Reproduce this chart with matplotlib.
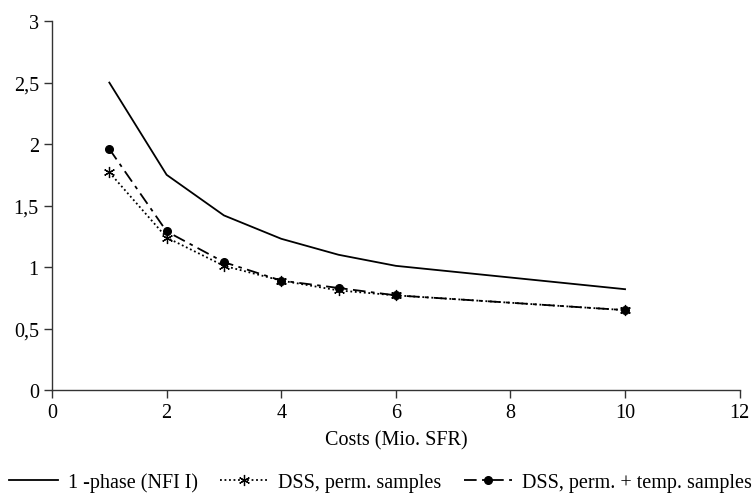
import matplotlib
matplotlib.use("Agg")
import matplotlib.pyplot as plt
from matplotlib.ticker import FuncFormatter

plt.rcParams['font.family'] = ['Liberation Serif', 'DejaVu Serif']

costs = [1, 2, 3, 4, 5, 6, 10]
one_phase = [2.50, 1.75, 1.42, 1.23, 1.10, 1.01, 0.82]
dss_perm = [1.77, 1.24, 1.01, 0.89, 0.81, 0.77, 0.65]
dss_perm_temp = [1.96, 1.29, 1.04, 0.89, 0.83, 0.77, 0.65]

x_ticks = [0, 2, 4, 6, 8, 10, 12]
y_ticks = [0, 0.5, 1, 1.5, 2, 2.5, 3]

fig = plt.figure(figsize=(7.54, 5.02), dpi=100)
ax = fig.add_axes([0.069, 0.221, 0.912, 0.735])

ax.plot(costs, one_phase, color='black', lw=1.3, label='1 -phase (NFI I)')
ax.plot(costs, dss_perm, color='black', lw=1.3, linestyle=(0, (1, 1.5)),
        marker=(6, 2, 0), markersize=8, markeredgewidth=0.9, label='DSS, perm. samples')
ax.plot(costs, dss_perm_temp, color='black', lw=1.3, linestyle=(0, (7, 3, 2, 3)),
        marker='o', markersize=5.5, label='DSS, perm. + temp. samples')

ax.set_xlim(0, 12)
ax.set_ylim(0, 3)
ax.set_xticks(x_ticks)
ax.set_yticks(y_ticks)
fmt = FuncFormatter(lambda v, p: ('%g' % v).replace('.', ','))
ax.xaxis.set_major_formatter(fmt)
ax.yaxis.set_major_formatter(fmt)
for s in ['top', 'right']:
    ax.spines[s].set_visible(False)
for s in ['left', 'bottom']:
    ax.spines[s].set_color('#333333')
    ax.spines[s].set_linewidth(1.0)
ax.tick_params(direction='out', length=6, width=1, colors='#333333', labelcolor='black', labelsize=14.5)
ax.set_xlabel('Costs (Mio. SFR)', fontsize=14.5, labelpad=6)

fig.legend(loc='center', bbox_to_anchor=(0.505, 0.038), ncol=3, frameon=False,
           fontsize=14.5, handlelength=2.4, columnspacing=1.1, handletextpad=0.5,
           borderpad=0, borderaxespad=0)

fig.savefig('out.png', dpi=100)
